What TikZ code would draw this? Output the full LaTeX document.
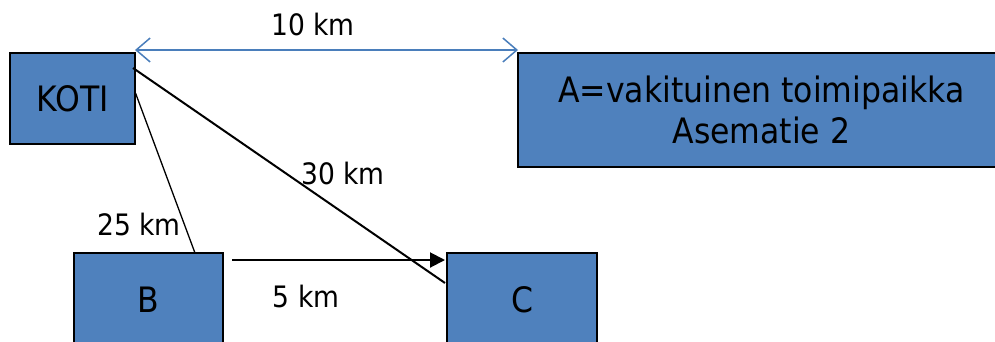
\documentclass[tikz,border=0pt]{standalone}
\usepackage{fontspec}
\setmainfont{DejaVu Sans Condensed}
\usetikzlibrary{arrows.meta}
\definecolor{boxblue}{HTML}{4F81BD}
\definecolor{linkblue}{HTML}{4A7EBB}
\tikzset{
  box/.style={draw=black, line width=1.5pt, fill=boxblue, inner sep=0pt,
    font=\fontsize{35}{41}\selectfont, align=center},
  lbl/.style={font=\fontsize{29.5}{32}\selectfont, inner sep=0pt},
  thinlink/.style={draw=black, line width=1.3pt},
  thicklink/.style={draw=black, line width=2pt},
  dimarrow/.style={draw=linkblue, line width=1.5pt,
    {Straight Barb[length=14pt,width=24pt]}-{Straight Barb[length=14pt,width=24pt]}},
  flowarrow/.style={draw=black, line width=2pt, -{Triangle[length=15pt,width=15pt]}},
}
\begin{document}
\begin{tikzpicture}[x=1pt,y=-1pt]
\useasboundingbox (0,0) rectangle (995,341);
\clip (0,0) rectangle (995,341);
% boxes
\node[box, minimum width=125pt, minimum height=91pt] (koti) at (72.5,98.5) {KOTI};
\node[box, minimum width=487pt, minimum height=114pt] (a) at (761.5,110) {A=vakituinen toimipaikka\\Asematie 2};
\node[box, minimum width=149pt, minimum height=94pt] (b) at (148.5,300) {B};
\node[box, minimum width=150pt, minimum height=94pt] (c) at (522,300) {C};
% connector end points
\coordinate (d1) at (135,50);
\coordinate (d2) at (518,50);
\coordinate (k1) at (133,68);
\coordinate (c1) at (445,283);
\coordinate (k2) at (135.5,93);
\coordinate (b1) at (195,253);
\coordinate (b2) at (232,260);
\coordinate (c2) at (445,260);
% connectors
\draw[dimarrow] (d1) -- (d2);
\draw[thinlink] (k2) -- (b1);
\draw[thicklink] (k1) -- (c1);
\draw[flowarrow] (b2) -- (c2);
% labels
\node[lbl] (l10) at (313,24) {10 km};
\node[lbl] (l30) at (343,173) {30 km};
\node[lbl] (l25) at (139,224) {25 km};
\node[lbl] (l5) at (306,296) {5 km};
\end{tikzpicture}
\end{document}
